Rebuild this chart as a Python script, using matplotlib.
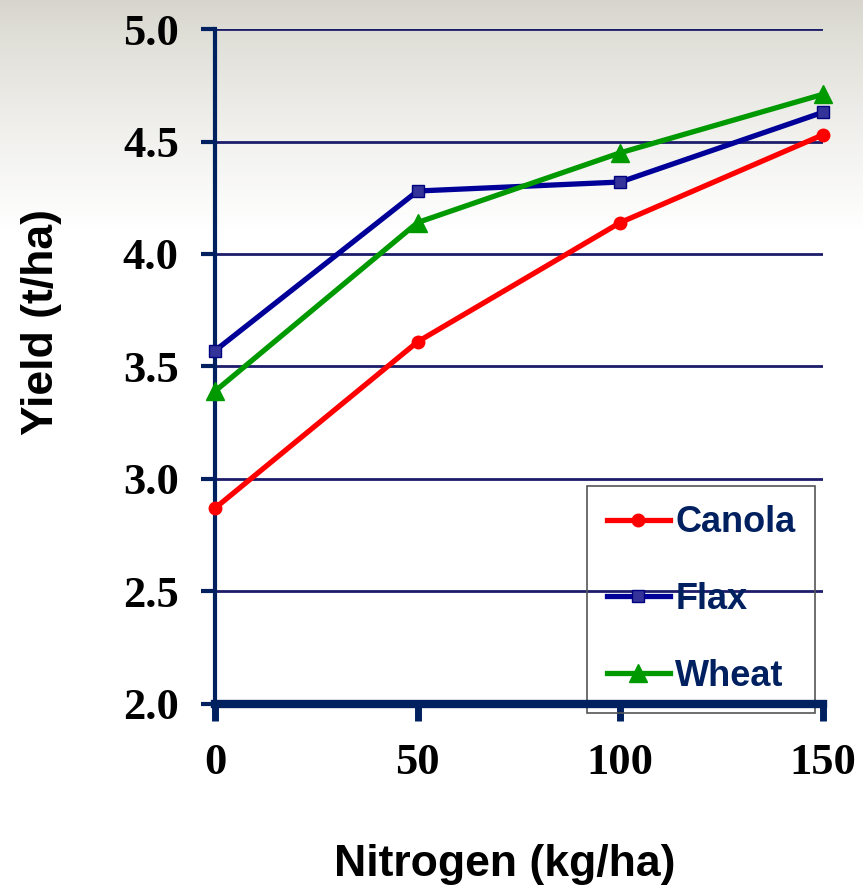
import numpy as np
import matplotlib
matplotlib.use("Agg")
import matplotlib.pyplot as plt

# data
nitrogen = [0, 50, 100, 150]
canola = [2.87, 3.61, 4.14, 4.53]
flax = [3.57, 4.28, 4.32, 4.63]
wheat = [3.39, 4.14, 4.45, 4.71]
yticks = [2.0, 2.5, 3.0, 3.5, 4.0, 4.5, 5.0]

navy = "#002060"

fig = plt.figure(figsize=(8.63, 8.93), dpi=100)

# faded background at the top
bg = fig.add_axes([0, 0, 1, 1], zorder=-10)
h = 893
fade = np.clip(np.arange(h) / 230.0, 0, 1)
top = np.array([0.84, 0.835, 0.80])
img = np.zeros((h, 10, 3))
for c in range(3):
    img[:, :, c] = (top[c] + (1 - top[c]) * fade ** 0.8)[:, None]
bg.imshow(img, aspect="auto", extent=[0, 1, 0, 1])
bg.axis("off")

ax = fig.add_axes([0.2491, 0.2117, 0.7046, 0.7558])
ax.patch.set_alpha(0)

ax.plot(nitrogen, canola, color="#ff0000", lw=3.8, marker="o", ms=9,
        label="Canola", clip_on=False, zorder=3)
ax.plot(nitrogen, flax, color="#000099", lw=3.8, marker="s", ms=8,
        mfc="#333399", mec="#000080", label="Flax", clip_on=False, zorder=3)
ax.plot(nitrogen, wheat, color="#009900", lw=3.8, marker="^", ms=13,
        label="Wheat", clip_on=False, zorder=3)

ax.set_xlim(0, 150)
ax.set_ylim(2.0, 5.0)
ax.set_xticks(nitrogen)
ax.set_yticks(yticks)
ax.set_yticklabels([f"{v:.1f}" for v in yticks])
ax.grid(axis="y", color="#1c1c6b", lw=2)
ax.set_axisbelow(True)

for s in ["top", "right"]:
    ax.spines[s].set_visible(False)
ax.spines["left"].set_color(navy)
ax.spines["left"].set_linewidth(3)
ax.spines["bottom"].set_color(navy)
ax.spines["bottom"].set_linewidth(6)

tick_font = dict(family="Liberation Serif", weight="bold", size=32)
ax.tick_params(axis="y", direction="out", length=10, width=3, color=navy, pad=16)
ax.tick_params(axis="x", direction="out", length=12, width=5, color=navy, pad=16)
for lbl in ax.get_xticklabels() + ax.get_yticklabels():
    lbl.set_fontproperties(matplotlib.font_manager.FontProperties(**tick_font))

ax.set_xlabel("Nitrogen (kg/ha)", family="Liberation Sans", weight="bold", size=32,
              va="center")
ax.set_ylabel("Yield (t/ha)", family="Liberation Sans", weight="bold", size=32,
              va="center")
ax.xaxis.set_label_coords(0.477, -0.238)
ax.yaxis.set_label_coords(-0.285, 0.566)

leg = ax.legend(loc="lower right", bbox_to_anchor=(0.987, -0.014),
                prop=dict(family="Liberation Sans", weight="bold", size=26),
                frameon=True, fancybox=False, facecolor="none",
                edgecolor="#555555", handlelength=1.75, handletextpad=0.15,
                labelspacing=1.15, borderpad=0.55, borderaxespad=0)
leg.get_frame().set_linewidth(1.2)
leg.get_frame().set_alpha(None)
for t in leg.get_texts():
    t.set_color(navy)
leg.set_zorder(1)

fig.savefig("out.png", dpi=100)
